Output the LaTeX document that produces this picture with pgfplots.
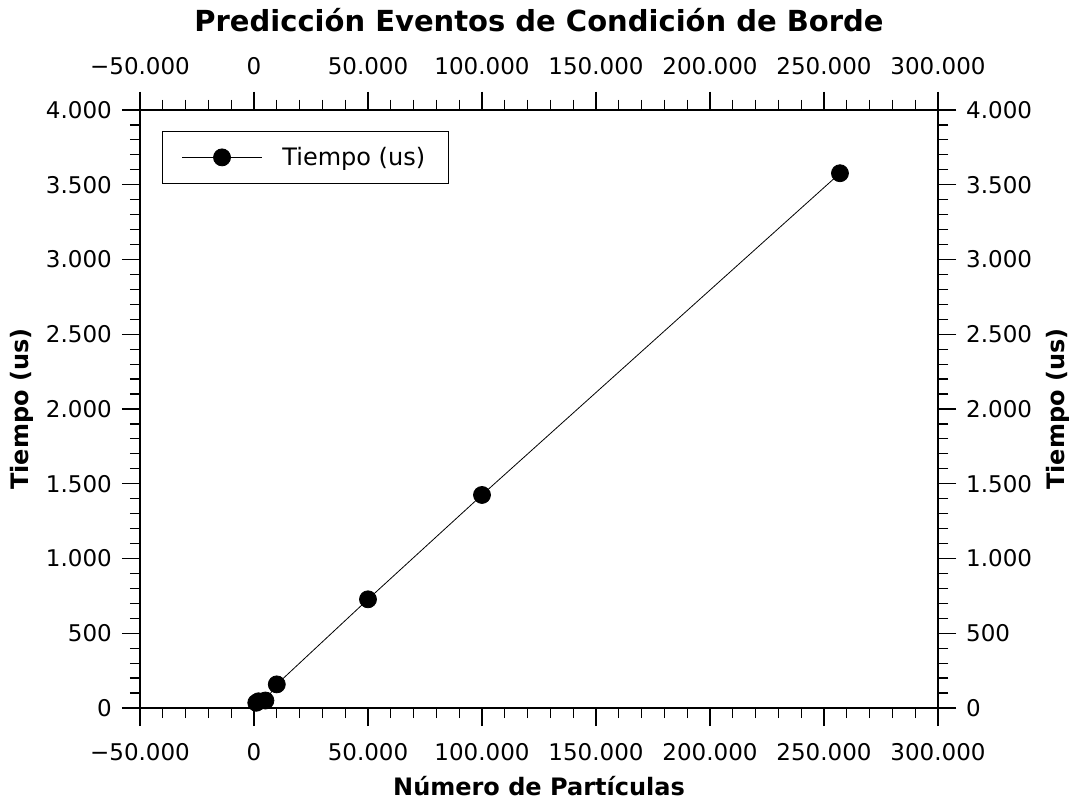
\documentclass[border=0pt]{standalone}
\usepackage{fontspec}
\setmainfont{DejaVu Sans}
\usepackage{pgfplots}
\pgfplotsset{compat=1.18}

\pgfplotsset{
  common/.style={
    scale only axis, width=798pt, height=598pt,
    xmin=-50000, xmax=300000, ymin=0, ymax=4000,
    scaled ticks=false,
    xtick={-50000,0,50000,100000,150000,200000,250000,300000},
    ytick={0,500,1000,1500,2000,2500,3000,3500,4000},
    xticklabels={−50.000,0,50.000,100.000,150.000,200.000,250.000,300.000},
    yticklabels={0,500,1.000,1.500,2.000,2.500,3.000,3.500,4.000},
    minor x tick num=4, minor y tick num=4,
    tick align=outside,
    major tick length=18pt, minor tick length=10pt,
    every tick/.style={black, line width=1.2pt},
    axis line style={line width=1.4pt},
    ticklabel style={font=\fontsize{23}{27}\selectfont, inner sep=0pt},
    xticklabel shift=17pt, yticklabel shift=10pt,
    label style={font=\fontsize{24}{28}\selectfont\bfseries},
  }
}

\begin{document}
\begin{tikzpicture}
\begin{axis}[common, name=ax,
  xtick pos=both, ytick pos=both,
  xticklabel pos=lower, yticklabel pos=left,
  xlabel={Número de Partículas}, ylabel={Tiempo (us)},
  xlabel style={at={(axis description cs:0.5,0)}, anchor=base, yshift=-88pt},
  ylabel style={at={(axis description cs:-0.1391,0.5)}, anchor=base},
  legend style={at={(axis description cs:0.0276,0.965)}, anchor=north west, draw=black, line width=1.2pt,
    font=\fontsize{24}{28}\selectfont, inner xsep=19pt, inner ysep=12pt, column sep=16pt,
    nodes={inner sep=4pt}, cells={anchor=west}},
  legend image code/.code={\draw[mark repeat=2,mark phase=2] plot coordinates {(0pt,0pt) (40pt,0pt) (80pt,0pt)};},
]
\addplot[black, line width=0.8pt, mark=*, mark size=8.5pt, mark options={solid, fill=black}] coordinates {
  (1000,35) (2000,45) (5000,50) (10000,158) (50000,727) (100000,1425) (257000,3577)
};
\addlegendentry{Tiempo (us)}
\end{axis}
\begin{axis}[common,
  axis x line*=top, axis y line*=right,
  ylabel={Tiempo (us)},
  ylabel style={at={(axis description cs:1.158,0.5)}, anchor=base},
  title={Predicción Eventos de Condición de Borde},
  title style={font=\fontsize{29}{33}\selectfont\bfseries, at={(axis description cs:0.5,1)}, anchor=base, yshift=72pt},
]
\end{axis}
\pgfresetboundingbox
\path[use as bounding box] ([xshift=-140pt,yshift=-92pt]ax.south west) rectangle ([xshift=133pt,yshift=110pt]ax.north east);
\end{tikzpicture}
\end{document}
